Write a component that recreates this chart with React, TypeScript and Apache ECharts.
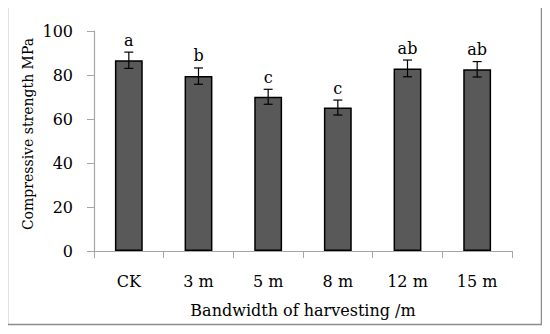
import React, { useEffect, useRef } from "react";
import * as echarts from "echarts";

const categories = ["CK", "3 m", "5 m", "8 m", "12 m", "15 m"];
const values = [86.7, 79.5, 70.1, 65.2, 83.0, 82.6];
const errors = [3.7, 3.7, 3.4, 3.4, 3.8, 3.5];
const letters = ["a", "b", "c", "c", "ab", "ab"];
const yTicks = [0, 20, 40, 60, 80, 100];
const xTitle = "Bandwidth of harvesting /m";
const yTitle = "Compressive strength MPa";

const FONT = "DejaVu Serif";

export default function App() {
  const ref = useRef<HTMLDivElement>(null);
  useEffect(() => {
    if (!ref.current) return;
    const chart = echarts.init(ref.current, null, { renderer: "svg" });
    const errData = values.map((v, i) => [i, v, errors[i]]);
    chart.setOption({
      animation: false,
      backgroundColor: "#fff",
      graphic: [
        {
          type: "rect",
          shape: { x: 7.5, y: 6.5, width: 534, height: 318 },
          style: { fill: "none", stroke: "#8c8c8c", lineWidth: 1.5 },
          silent: true,
        },
        {
          type: "text",
          x: 28,
          y: 134,
          rotation: Math.PI / 2,
          style: {
            text: yTitle,
            fill: "#000",
            font: `14px "${FONT}"`,
            align: "center",
            verticalAlign: "middle",
          },
        },
      ],
      grid: { left: 94, right: 38, top: 31, bottom: 83 },
      xAxis: {
        type: "category",
        data: categories,
        axisLine: { lineStyle: { color: "#a6a6a6", width: 1.2 } },
        axisTick: { show: true, length: 7, lineStyle: { color: "#a6a6a6" } },
        axisLabel: { color: "#000", fontFamily: FONT, fontSize: 16, margin: 22 },
        name: xTitle,
        nameLocation: "middle",
        nameGap: 51,
        nameTextStyle: { color: "#000", fontFamily: FONT, fontSize: 16 },
      },
      yAxis: {
        type: "value",
        min: yTicks[0],
        max: yTicks[yTicks.length - 1],
        interval: 20,
        splitLine: { show: false },
        axisLine: { show: true, lineStyle: { color: "#a6a6a6", width: 1.2 } },
        axisTick: { show: true, length: 7, lineStyle: { color: "#a6a6a6" } },
        axisLabel: { color: "#000", fontFamily: FONT, fontSize: 16, margin: 21 },
      },
      series: [
        {
          type: "bar",
          data: values,
          barWidth: "40%",
          itemStyle: { color: "#595959", borderColor: "#000", borderWidth: 1.5 },
        },
        {
          type: "custom",
          data: errData,
          z: 10,
          renderItem: (params: any, api: any) => {
            const i = api.value(0);
            const v = api.value(1);
            const e = api.value(2);
            const top = api.coord([i, v + e]);
            const bot = api.coord([i, v - e]);
            const x = top[0];
            const hw = 4.5;
            const st = { stroke: "#000", lineWidth: 1.2 };
            return {
              type: "group",
              children: [
                { type: "line", shape: { x1: x, y1: top[1], x2: x, y2: bot[1] }, style: st },
                { type: "line", shape: { x1: x - hw, y1: top[1], x2: x + hw, y2: top[1] }, style: st },
                { type: "line", shape: { x1: x - hw, y1: bot[1], x2: x + hw, y2: bot[1] }, style: st },
                {
                  type: "text",
                  x: x,
                  y: top[1] - 12,
                  style: {
                    text: letters[params.dataIndex],
                    fill: "#000",
                    font: `16px "${FONT}"`,
                    align: "center",
                    verticalAlign: "middle",
                  },
                },
              ],
            };
          },
        },
      ],
    });
    return () => chart.dispose();
  }, []);
  return <div ref={ref} style={{ width: 550, height: 334, margin: -8 }} />;
}
